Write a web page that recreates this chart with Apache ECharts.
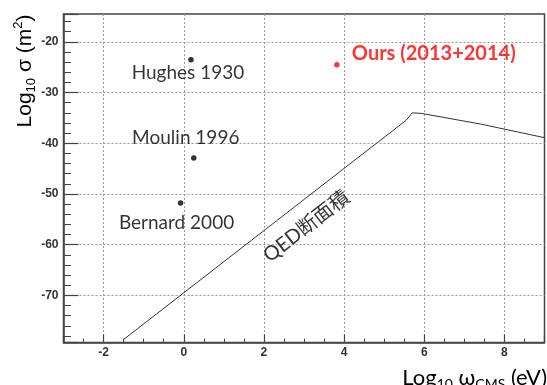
<!DOCTYPE html>
<html>
<head>
<meta charset="utf-8">
<script src="https://cdn.jsdelivr.net/npm/echarts@6/dist/echarts.min.js"></script>
<style>
  html, body { margin: 0; padding: 0; background: #fff; }
  #chart { width: 547px; height: 385px; }
</style>
</head>
<body>
<div id="chart"></div>
<script>
// Earlier photon-photon scattering searches: log10(omega_CMS / eV), log10(sigma / m^2)
const expNames = ['Hughes 1930', 'Moulin 1996', 'Bernard 2000'];
const expX = [0.18, 0.25, -0.08];
const expY = [-23.5, -42.9, -51.8];

// This work
const oursName = 'Ours (2013+2014)';
const oursX = [3.82];
const oursY = [-24.5];

// QED light-by-light cross-section curve
const qedX = [-1.5, 5.55, 5.70, 5.92, 7.40, 9.0];
const qedY = [-78.7, -35.45, -34.0, -34.1, -36.2, -38.9];
const qedLabel = 'QED断面積';
const qedLabelAt = [3.06, -56.4];

// Axis ranges
const xRange = [-3, 9];
const yRange = [-79.3, -14.5];

const LABEL_FONT = 'Lato, "Open Sans", sans-serif';
const AXIS_FONT = '"Liberation Sans", Arial, sans-serif';

// where each measurement's caption sits relative to its dot
const captionLayout = {
  'Hughes 1930':  { offset: [-3, 13] },
  'Moulin 1996':  { offset: [-8, -20] },
  'Bernard 2000': { offset: [-4, 20] }
};

const chart = echarts.init(document.getElementById('chart'), null, { renderer: 'canvas' });

const expData = expNames.map((name, i) => ({
  name: name,
  value: [expX[i], expY[i]],
  label: {
    show: true,
    position: 'inside',
    formatter: name,
    offset: captionLayout[name].offset,
    color: '#000',
    fontFamily: LABEL_FONT,
    fontSize: 19
  }
}));

const oursData = oursX.map((x, i) => ({
  name: oursName,
  value: [x, oursY[i]],
  label: {
    show: true,
    position: 'inside',
    align: 'left',
    formatter: oursName,
    offset: [15, -11],
    color: '#ff0000',
    fontWeight: 'bold',
    fontFamily: LABEL_FONT,
    fontSize: 20
  }
}));

const axisCommon = {
  type: 'value',
  axisLine: { show: true, onZero: false, lineStyle: { color: '#444', width: 1.5 } },
  axisLabel: {
    showMinLabel: false,
    showMaxLabel: false,
    color: '#333',
    fontFamily: AXIS_FONT,
    fontWeight: 'bold',
    fontSize: 12
  },
  splitLine: {
    show: true,
    showMinLine: false,
    showMaxLine: false,
    lineStyle: { color: '#999', type: [2, 2], width: 1 }
  }
};

const option = {
  backgroundColor: '#fff',
  animation: false,
  grid: {
    left: 63.5, right: 2.5, top: 14, bottom: 42.5,
    show: true, borderColor: '#444', borderWidth: 1.5, backgroundColor: '#fff'
  },
  xAxis: Object.assign({}, axisCommon, {
    min: xRange[0], max: xRange[1], splitNumber: 6,
    axisTick: { show: true, inside: true, length: 8, lineStyle: { color: '#444', width: 1.2 } },
    minorTick: { show: true, splitNumber: 4, length: 4, lineStyle: { color: '#444', width: 1 } },
    axisLabel: Object.assign({}, axisCommon.axisLabel, { margin: 4 })
  }),
  yAxis: Object.assign({}, axisCommon, {
    min: yRange[0], max: yRange[1], splitNumber: 5,
    axisTick: { show: true, inside: true, length: 15, lineStyle: { color: '#444', width: 1.2 } },
    minorTick: { show: true, splitNumber: 5, length: 7.5, lineStyle: { color: '#444', width: 1 } },
    axisLabel: Object.assign({}, axisCommon.axisLabel, { margin: 5 })
  }),
  series: [
    {
      name: 'QED',
      type: 'line',
      data: qedX.map((x, i) => [x, qedY[i]]),
      symbol: 'none',
      lineStyle: { color: '#333', width: 1 },
      z: 3
    },
    {
      name: 'QED label',
      type: 'scatter',
      data: [qedLabelAt],
      symbolSize: 0,
      silent: true,
      label: {
        show: true,
        position: 'inside',
        formatter: qedLabel,
        rotate: 37.8,
        color: '#000',
        fontFamily: 'Lato, "Noto Sans CJK JP", sans-serif',
        fontSize: 20
      },
      z: 4
    },
    {
      name: 'Previous experiments',
      type: 'scatter',
      data: expData,
      symbol: 'circle',
      symbolSize: 5.5,
      itemStyle: { color: '#000' },
      z: 5
    },
    {
      name: oursName,
      type: 'scatter',
      data: oursData,
      symbol: 'circle',
      symbolSize: 5.5,
      itemStyle: { color: '#ff0000' },
      z: 5
    }
  ],
  graphic: [
    {
      type: 'text',
      x: 25, y: 71,
      rotation: Math.PI / 2,
      style: {
        text: '{a|Log}{s|10}{a| σ (m}{p|2}{a|)}',
        align: 'center',
        verticalAlign: 'middle',
        fill: '#000',
        rich: {
          a: { fontFamily: AXIS_FONT, fontSize: 21, lineHeight: 26, fill: '#000', verticalAlign: 'middle' },
          s: { fontFamily: AXIS_FONT, fontSize: 13, lineHeight: 13, fill: '#000', verticalAlign: 'bottom' },
          p: { fontFamily: AXIS_FONT, fontSize: 13, lineHeight: 13, fill: '#000', verticalAlign: 'top' }
        }
      }
    },
    {
      type: 'text',
      right: 0, top: 367,
      style: {
        text: '{a|Log}{s|10}{a| ω}{s|CMS}{a| (eV)}',
        fill: '#000',
        rich: {
          a: { fontFamily: LABEL_FONT, fontSize: 22, lineHeight: 26, fill: '#000', verticalAlign: 'middle' },
          s: { fontFamily: LABEL_FONT, fontSize: 14, lineHeight: 14, fill: '#000', verticalAlign: 'bottom' }
        }
      }
    }
  ]
};

chart.setOption(option);
</script>
</body>
</html>
